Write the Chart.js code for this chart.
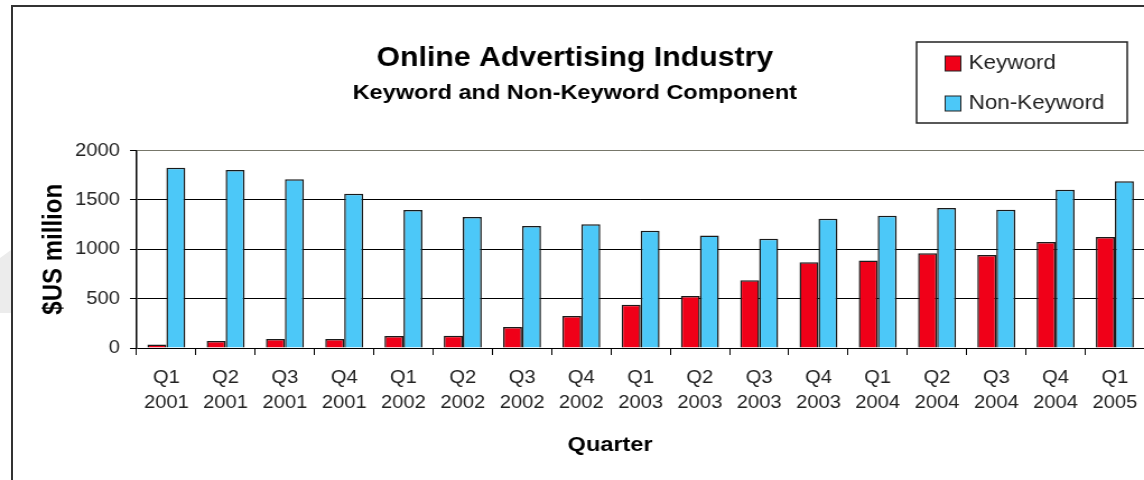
<!DOCTYPE html>
<html>
<head>
<meta charset="utf-8">
<title>Online Advertising Industry</title>
<script src="https://cdn.jsdelivr.net/npm/chart.js@4.4.1/dist/chart.umd.min.js"></script>
<style>
  html, body { margin: 0; padding: 0; background: #fff; overflow: hidden; }
  #page { position: relative; width: 1144px; height: 480px; overflow: hidden; }
  #frame { position: absolute; left: 11px; top: 5px; width: 1200px; height: 500px; border: 2px solid #333; }
  #smudge { position: absolute; left: 0; top: 250px; width: 11px; height: 63px; background: #ececec;
            clip-path: polygon(0 8px, 100% 0, 100% 100%, 0 100%); }
  /* chart is laid out narrower and stretched sideways; its right edge runs past the page */
  #wrap { position: absolute; left: 0; top: 0; width: 1026px; height: 480px;
          transform: scaleX(1.1205); transform-origin: 0 0; }
</style>
</head>
<body>
<div id="page">
  <div id="smudge"></div>
  <div id="frame"></div>
  <div id="wrap"><canvas id="adChart"></canvas></div>
</div>
<script>
Chart.defaults.font.family = "'Liberation Sans', Arial, sans-serif";
Chart.defaults.color = '#222';

// Quarterly spend, $US million
const quarters = ['Q1', 'Q2', 'Q3', 'Q4', 'Q1', 'Q2', 'Q3', 'Q4', 'Q1', 'Q2', 'Q3', 'Q4', 'Q1', 'Q2', 'Q3', 'Q4', 'Q1'];
const years = ['2001', '2001', '2001', '2001', '2002', '2002', '2002', '2002', '2003', '2003', '2003', '2003', '2004', '2004', '2004', '2004', '2005'];
const keyword = [35, 71, 91, 91, 122, 125, 213, 325, 437, 528, 687, 870, 887, 961, 941, 1073, 1124];
const nonKeyword = [1827, 1804, 1710, 1563, 1398, 1327, 1236, 1253, 1188, 1141, 1107, 1310, 1340, 1418, 1401, 1604, 1689];
const yRange = [0, 2000];
const yStep = 500;

const seriesColors = { Keyword: '#f00018', 'Non-Keyword': '#4cc8f8' };

// boxed legend at top right plus the x axis caption
const extras = {
    id: 'extras',
    afterDraw(chart) {
        const ctx = chart.ctx;
        ctx.save();

        const bx = chart.width - 208, by = 42, bw = 188, bh = 81;
        ctx.strokeStyle = '#222';
        ctx.lineWidth = 1.5;
        ctx.strokeRect(bx, by, bw, bh);

        ctx.font = "20px 'Liberation Sans', Arial, sans-serif";
        ctx.textBaseline = 'middle';
        ctx.textAlign = 'left';
        chart.data.datasets.forEach((ds, i) => {
            const cy = by + 21.5 + i * 40;
            ctx.fillStyle = ds.backgroundColor;
            ctx.fillRect(bx + 25.5, cy - 7.5, 14, 15);
            ctx.lineWidth = 1;
            ctx.strokeStyle = '#222';
            ctx.strokeRect(bx + 25.5, cy - 7.5, 14, 15);
            ctx.fillStyle = '#222';
            ctx.fillText(ds.label, bx + 46.5, cy);
        });

        ctx.font = "bold 21px 'Liberation Sans', Arial, sans-serif";
        ctx.fillStyle = '#000';
        ctx.textAlign = 'center';
        ctx.fillText('Quarter', chart.width / 2 + 31.5, 445);
        ctx.restore();
    }
};

new Chart(document.getElementById('adChart'), {
    type: 'bar',
    data: {
        labels: quarters.map((q, i) => [q, years[i]]),
        datasets: [
            {
                label: 'Keyword',
                data: keyword,
                backgroundColor: seriesColors['Keyword'],
                borderColor: '#1a1a1a',
                borderWidth: 1.5,
                categoryPercentage: 0.64,
                barPercentage: 1.0
            },
            {
                label: 'Non-Keyword',
                data: nonKeyword,
                backgroundColor: seriesColors['Non-Keyword'],
                borderColor: '#1a1a1a',
                borderWidth: 1.5,
                categoryPercentage: 0.64,
                barPercentage: 1.0
            }
        ]
    },
    options: {
        responsive: true,
        maintainAspectRatio: false,
        animation: false,
        layout: { padding: { left: 0, right: 0, top: 0, bottom: 72 } },
        plugins: {
            legend: { display: false },
            tooltip: { enabled: false },
            title: {
                display: true,
                text: 'Online Advertising Industry',
                color: '#000',
                font: { size: 27, weight: 'bold' },
                padding: { top: 42, bottom: 0 }
            },
            subtitle: {
                display: true,
                text: 'Keyword and Non-Keyword Component',
                color: '#000',
                font: { size: 21, weight: 'bold' },
                padding: { top: 6, bottom: 45 }
            }
        },
        scales: {
            x: {
                grid: { offset: true, drawOnChartArea: false, color: '#000', tickLength: 7 },
                border: { display: false },
                ticks: { color: '#222', font: { size: 18, lineHeight: 1.39 }, padding: 11, maxRotation: 0, autoSkip: false },
                afterFit: (scale) => { scale.height = 60; }
            },
            y: {
                min: yRange[0],
                max: yRange[1],
                ticks: { stepSize: yStep, color: '#222', font: { size: 18 }, padding: 9, callback: (v) => String(v) },
                grid: {
                    color: (c) => (c.tick && c.tick.value === yRange[1]) ? '#77776a' : '#000',
                    tickColor: '#000',
                    tickLength: 6,
                    lineWidth: 1
                },
                border: { color: '#000', width: 1.5 },
                title: {
                    display: true,
                    text: '$US million',
                    color: '#000',
                    font: { size: 24, weight: 'bold' },
                    padding: { top: 33.5, bottom: 0 }
                },
                afterFit: (scale) => { scale.width = 122; }
            }
        }
    },
    plugins: [extras]
});
</script>
</body>
</html>
